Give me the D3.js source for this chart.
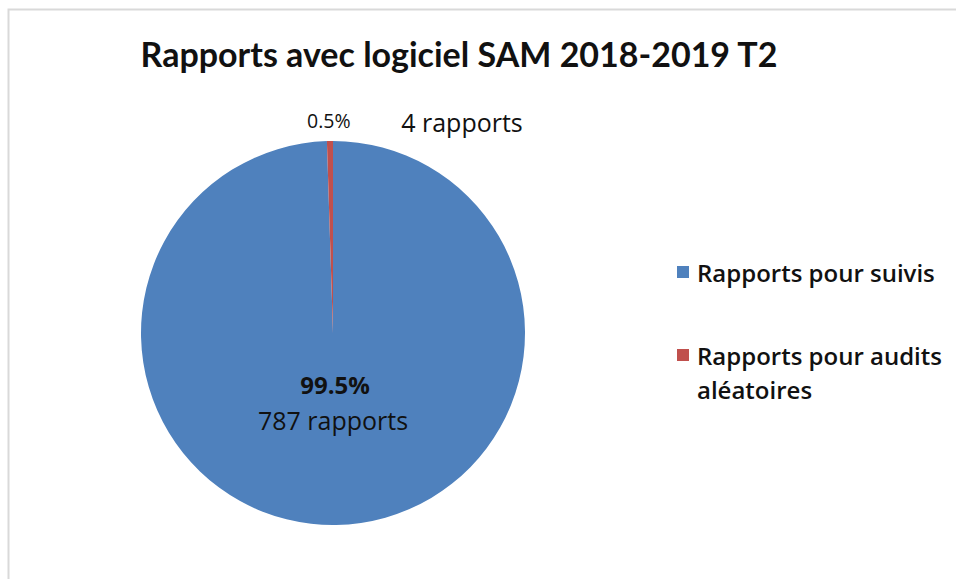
<!DOCTYPE html>
<html lang="fr">
<head>
    <meta charset="UTF-8">
    <title>Rapports avec logiciel SAM 2018-2019 T2</title>
    <script src="https://d3js.org/d3.v7.min.js"></script>
    <style>
        body { margin: 0; background: #fff; }
        svg text { font-family: "Open Sans", sans-serif; fill: #111; }
        svg text.title { font-family: Lato, sans-serif; }
    </style>
</head>
<body>
    <div id="chart"></div>

    <script>
        const categories = ["Rapports pour suivis", "Rapports pour audits aléatoires"];
        const counts = [787, 4];
        const countLabels = ["787 rapports", "4 rapports"];
        const colors = ["#4F81BD", "#C0504D"];

        const width = 956;
        const height = 579;

        const svg = d3.select("#chart")
            .append("svg")
            .attr("width", width)
            .attr("height", height);

        // chart frame
        svg.append("rect")
            .attr("x", 8.5)
            .attr("y", 9.5)
            .attr("width", 960)
            .attr("height", 600)
            .attr("fill", "none")
            .attr("stroke", "#d9d9d9")
            .attr("stroke-width", 2);

        svg.append("text")
            .attr("class", "title")
            .attr("x", 459)
            .attr("y", 67)
            .attr("text-anchor", "middle")
            .style("font-size", "34px")
            .style("font-weight", "bold")
            .text("Rapports avec logiciel SAM 2018-2019 T2");

        const cx = 333, cy = 333, r = 192;
        const total = d3.sum(counts);
        const pct = d3.format(".1%");

        const pie = d3.pie().sort(null)(counts);
        const arc = d3.arc().innerRadius(0).outerRadius(r);

        const g = svg.append("g").attr("transform", `translate(${cx},${cy})`);
        g.selectAll("path")
            .data(pie)
            .join("path")
            .attr("d", arc)
            .attr("fill", (d, i) => colors[i]);

        // big slice label, inside
        g.append("text")
            .attr("x", 2)
            .attr("y", 61)
            .attr("text-anchor", "middle")
            .style("font-size", "24px")
            .style("font-weight", "bold")
            .text(pct(counts[0] / total));
        g.append("text")
            .attr("x", 0)
            .attr("y", 97)
            .attr("text-anchor", "middle")
            .style("font-size", "25px")
            .text(countLabels[0]);

        // small slice label, above the pie
        const mid = (pie[1].startAngle + pie[1].endAngle) / 2;
        g.append("text")
            .attr("x", Math.sin(mid) * (r + 10) - 1)
            .attr("y", -Math.cos(mid) * (r + 10) - 3)
            .attr("text-anchor", "middle")
            .style("font-size", "19.5px")
            .text(pct(counts[1] / total));
        g.append("text")
            .attr("x", 129)
            .attr("y", -201)
            .attr("text-anchor", "middle")
            .style("font-size", "25px")
            .text(countLabels[1]);

        // legend
        const legendY = d3.scalePoint().domain(categories).range([272, 355]);
        const legend = svg.append("g").attr("transform", "translate(677,0)");
        const item = legend.selectAll("g")
            .data(categories)
            .join("g")
            .attr("transform", d => `translate(0,${legendY(d)})`);
        item.append("rect")
            .attr("x", 0)
            .attr("y", -6)
            .attr("width", 12)
            .attr("height", 12)
            .attr("fill", (d, i) => colors[i]);
        item.append("text")
            .attr("x", 20)
            .attr("y", 10)
            .style("font-size", "24px")
            .style("font-weight", "600")
            .each(function (d) {
                const t = d3.select(this);
                const words = d === categories[1] ? ["Rapports pour audits", "aléatoires"] : [d];
                words.forEach((w, k) => {
                    t.append("tspan").attr("x", 20).attr("dy", k ? 34 : 0).text(w);
                });
            });
    </script>
</body>
</html>
